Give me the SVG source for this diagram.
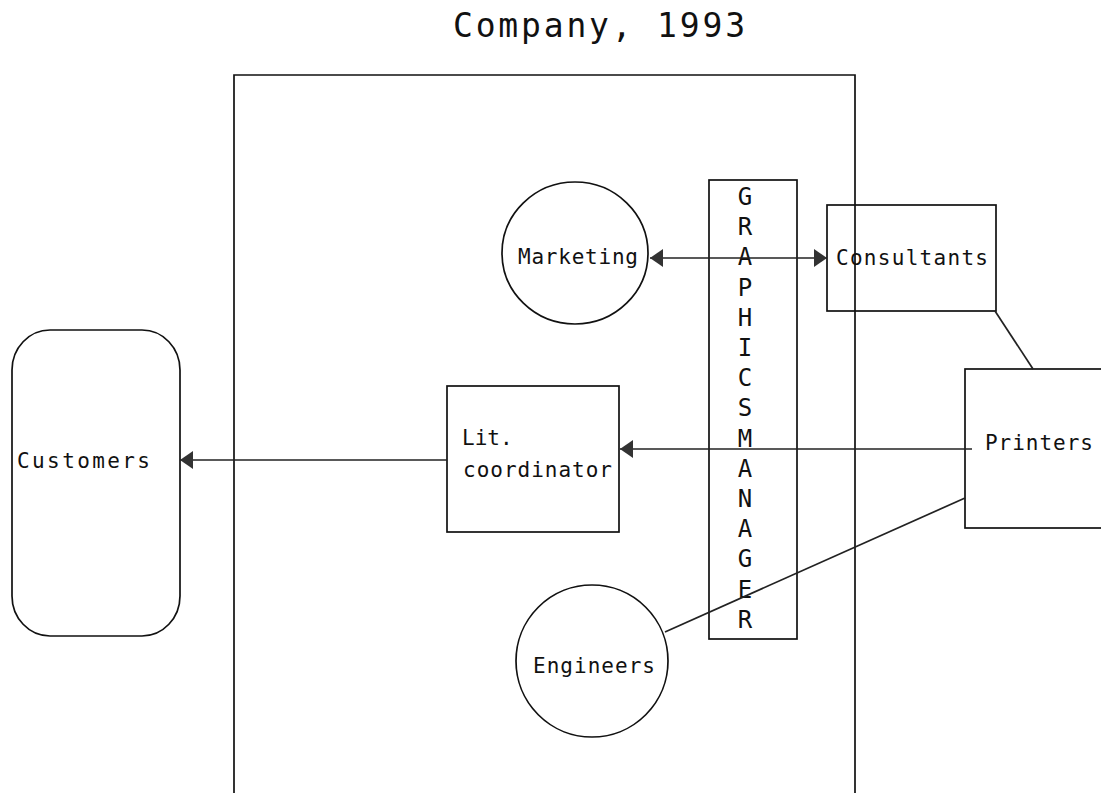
<svg xmlns="http://www.w3.org/2000/svg" width="1101" height="793" viewBox="0 0 1101 793">
<style>
.s{fill:none;stroke:#111;stroke-width:1.7}
.t{font-family:"DejaVu Sans Mono","Liberation Mono",monospace;font-size:21px;fill:#111}
.g{font-family:"DejaVu Sans Mono","Liberation Mono",monospace;font-size:24px;fill:#111;text-anchor:middle}
.c{fill:none;stroke:#222;stroke-width:1.7}
</style>
<defs>
<marker id="ah" viewBox="0 0 13 18" refX="13" refY="9" markerWidth="13" markerHeight="18" markerUnits="userSpaceOnUse" orient="auto-start-reverse">
<path d="M0,0 L13,9 L0,18 Z" fill="#333"/>
</marker>
</defs>
<rect width="1101" height="793" fill="#fff"/>
<text x="453" y="37" font-family="DejaVu Sans Mono, Liberation Mono, monospace" font-size="33" fill="#111" textLength="292" lengthAdjust="spacing">Company, 1993</text>
<g id="frame"><path class="s" d="M234,800 V75 H855 V800"/></g>
<g id="customers"><rect class="s" x="12" y="330" width="168" height="306" rx="38" ry="40"/><text class="t" x="17" y="468" textLength="133">Customers</text></g>
<g id="marketing"><ellipse class="s" cx="575" cy="253" rx="73" ry="71"/><text class="t" x="518" y="264" textLength="120">Marketing</text></g>
<g id="graphics-manager"><rect class="s" x="709" y="180" width="88" height="459"/>
<text class="g" x="745" y="205">G<tspan x="745" dy="30.2">R</tspan><tspan x="745" dy="30.2">A</tspan><tspan x="745" dy="30.2">P</tspan><tspan x="745" dy="30.2">H</tspan><tspan x="745" dy="30.2">I</tspan><tspan x="745" dy="30.2">C</tspan><tspan x="745" dy="30.2">S</tspan><tspan x="745" dy="30.2">M</tspan><tspan x="745" dy="30.2">A</tspan><tspan x="745" dy="30.2">N</tspan><tspan x="745" dy="30.2">A</tspan><tspan x="745" dy="30.2">G</tspan><tspan x="745" dy="30.2">E</tspan><tspan x="745" dy="30.2">R</tspan></text></g>
<g id="consultants"><rect class="s" x="827" y="205" width="169" height="106"/><text class="t" x="836" y="265" textLength="152">Consultants</text></g>
<g id="lit-coordinator"><rect class="s" x="447" y="386" width="172" height="146"/><text class="t" x="462" y="445">Lit.</text><text class="t" x="463" y="477" textLength="149">coordinator</text></g>
<g id="printers"><rect class="s" x="965" y="369" width="150" height="159"/><text class="t" x="985" y="450" textLength="108">Printers</text></g>
<g id="engineers"><circle class="s" cx="592" cy="661" r="76"/><text class="t" x="533" y="673" textLength="122">Engineers</text></g>
<g id="connectors">
<line class="c" x1="650" y1="258" x2="827" y2="258" marker-start="url(#ah)" marker-end="url(#ah)"/>
<line class="c" x1="972" y1="449" x2="620" y2="449" marker-end="url(#ah)"/>
<line class="c" x1="447" y1="460" x2="180" y2="460" stroke-width="2.2" marker-end="url(#ah)"/>
<line class="c" x1="995" y1="311" x2="1033" y2="369"/>
<line class="c" x1="665" y1="632" x2="965" y2="498"/>
</g>
</svg>
